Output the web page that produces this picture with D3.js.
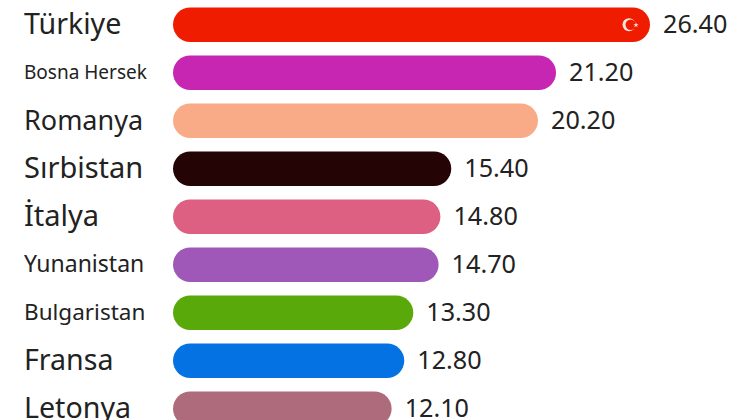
<!DOCTYPE html>
<html>
<head>
<meta charset="utf-8">
<script src="https://cdn.jsdelivr.net/npm/d3@7"></script>
<style>
html,body{margin:0;padding:0;background:#fff;overflow:hidden}
svg{display:block}
text{font-family:"Noto Sans","Open Sans",sans-serif;fill:#222}
</style>
</head>
<body>
<script>
const categories = ["Türkiye","Bosna Hersek","Romanya","Sırbistan","İtalya","Yunanistan","Bulgaristan","Fransa","Letonya"];
const values = [26.40,21.20,20.20,15.40,14.80,14.70,13.30,12.80,12.10];
const barColors = ["#f01c00","#c626b2","#f8ab86","#240405","#dd6082","#9f58b8","#5aa90a","#0472e2","#ad6b7b"];
const flagBar = "Türkiye";

const width = 740, height = 420;
const labelFontPx = {"Türkiye":28.6,"Bosna Hersek":19,"Romanya":27,"Sırbistan":29,"İtalya":29,"Yunanistan":23,"Bulgaristan":22.5,"Fransa":28.6,"Letonya":28.6};
const svg = d3.select("body").append("svg").attr("width", width).attr("height", height);

const x = d3.scaleLinear().domain([0, 26.4]).range([173, 650]);
const y = d3.scaleBand().domain(categories).range([0.7, 432.7]).paddingInner(0.28).paddingOuter(0.14);

const rows = categories.map((c, i) => ({c, v: values[i], color: barColors[i]}));

svg.append("g").selectAll("rect").data(rows).join("rect")
  .attr("x", x(0))
  .attr("y", d => y(d.c))
  .attr("width", d => x(d.v) - x(0))
  .attr("height", y.bandwidth())
  .attr("rx", y.bandwidth() / 2)
  .attr("fill", d => d.color);

const axis = svg.append("g").attr("transform", "translate(24,0)")
  .call(d3.axisLeft(y).tickSize(0).tickPadding(0));
axis.select(".domain").remove();
axis.selectAll("text")
  .attr("x", 0)
  .attr("text-anchor", "start")
  .style("font-size", d => labelFontPx[d] + "px")
  .attr("dy", "0.33em");

svg.append("g").selectAll("text").data(rows).join("text")
  .attr("x", d => x(d.v) + 13)
  .attr("y", d => y(d.c) + y.bandwidth() / 2)
  .attr("dy", "0.34em")
  .style("font-size", "25.2px")
  .text(d => d.v.toFixed(2));

// Crescent and star at the end of the Türkiye bar
const fx = x(values[categories.indexOf(flagBar)]) - 21;
const fy = y(flagBar) + y.bandwidth() / 2;
const flag = svg.append("g").attr("transform", `translate(${fx},${fy})`);
flag.append("circle").attr("r", 6.5).attr("fill", "#fbe4df");
flag.append("circle").attr("cx", 1.7).attr("r", 5.2).attr("fill", barColors[0]);
flag.append("path").attr("transform", "translate(7,0.3)")
  .attr("d", d3.symbol(d3.symbolStar, 9)()).attr("fill", "#fbe4df");
</script>
</body>
</html>
